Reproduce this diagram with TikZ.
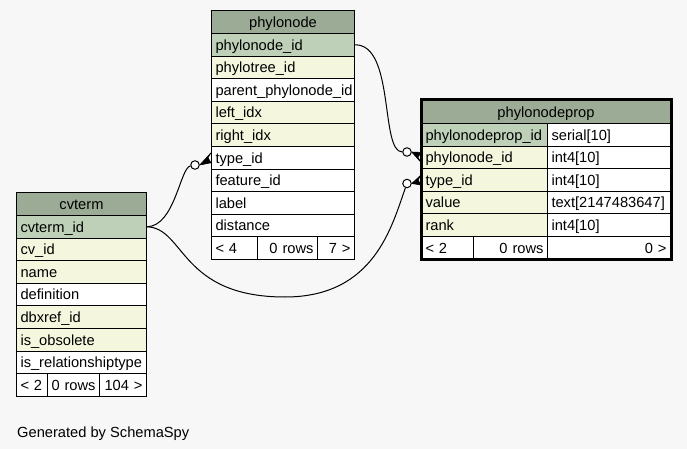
\documentclass[tikz,border=0pt]{standalone}
\usepackage{fontspec}
\setmainfont{Liberation Sans}
\usetikzlibrary{calc}
\definecolor{bg}{HTML}{F7F7F7}
\definecolor{hdr}{HTML}{9BAB96}
\definecolor{pkc}{HTML}{BED1B8}
\definecolor{idx}{HTML}{F4F7DE}
\tikzset{
  cell/.style={draw=black, line width=1pt, anchor=north west, inner xsep=4pt, inner ysep=0pt,
    text height=13.6pt, text depth=3pt, font=\fontsize{14.67}{17}\selectfont},
  conn/.style={draw=black, line width=1pt},
  circ/.style={circle, draw=black, fill=white, line width=1pt, inner sep=0pt, minimum size=8.5pt},
  crowfoot/.style={fill=black, draw=black, line width=0.6pt, line join=round}
}
\newcommand\erdcell[8]{%
  \pgfmathsetmacro\erdtw{#4-8}%
  \node[cell, fill=#6, minimum width=#4pt, minimum height=#5pt, text width=\erdtw pt, align=#7] (#1) at (#2,#3) {\mbox{#8}};}
\begin{document}
\begin{tikzpicture}[x=1pt,y=-1pt]
\useasboundingbox[fill=bg] (0,0) rectangle (687,449);

% ---------- phylonode ----------
\erdcell{pn}{211}{10}{143}{23}{hdr}{center}{phylonode}
\erdcell{pn-phylonodeid}{211}{33}{143}{22.6}{pkc}{left}{phylonode\_id}
\erdcell{pn-phylotreeid}{211}{55.6}{143}{22.6}{idx}{left}{phylotree\_id}
\erdcell{pn-parent}{211}{78.2}{143}{22.6}{white}{left}{parent\_phylonode\_id}
\erdcell{pn-left}{211}{100.8}{143}{22.6}{idx}{left}{left\_idx}
\erdcell{pn-right}{211}{123.4}{143}{22.6}{idx}{left}{right\_idx}
\erdcell{pn-typeid}{211}{146}{143}{22.6}{white}{left}{type\_id}
\erdcell{pn-featureid}{211}{168.6}{143}{22.6}{white}{left}{feature\_id}
\erdcell{pn-label}{211}{191.2}{143}{22.6}{white}{left}{label}
\erdcell{pn-distance}{211}{213.8}{143}{22.6}{white}{left}{distance}
\erdcell{pn-f1}{211}{236.4}{46}{22.6}{white}{left}{< 4}
\erdcell{pn-f2}{257}{236.4}{60}{22.6}{white}{right}{0 rows}
\erdcell{pn-f3}{317}{236.4}{37}{22.6}{white}{right}{7 >}

% ---------- cvterm ----------
\erdcell{cv}{16}{192}{130}{23}{hdr}{center}{cvterm}
\erdcell{cv-cvtermid}{16}{215}{130}{22.6}{pkc}{left}{cvterm\_id}
\erdcell{cv-cvid}{16}{237.6}{130}{22.6}{idx}{left}{cv\_id}
\erdcell{cv-name}{16}{260.2}{130}{22.6}{idx}{left}{name}
\erdcell{cv-definition}{16}{282.8}{130}{22.6}{white}{left}{definition}
\erdcell{cv-dbxrefid}{16}{305.4}{130}{22.6}{idx}{left}{dbxref\_id}
\erdcell{cv-isobsolete}{16}{328}{130}{22.6}{idx}{left}{is\_obsolete}
\erdcell{cv-isrel}{16}{350.6}{130}{22.6}{white}{left}{is\_relationshiptype}
\erdcell{cv-f1}{16}{373.2}{31}{22.6}{white}{left}{< 2}
\erdcell{cv-f2}{47}{373.2}{52}{22.6}{white}{right}{0 rows}
\erdcell{cv-f3}{99}{373.2}{47}{22.6}{white}{right}{104 >}

% ---------- phylonodeprop ----------
\erdcell{pp}{421}{100}{249}{23}{hdr}{center}{phylonodeprop}
\erdcell{pp-id}{421}{123}{126}{22.6}{pkc}{left}{phylonodeprop\_id}
\erdcell{pp-idt}{547}{123}{123}{22.6}{white}{left}{serial[10]}
\erdcell{pp-phylonodeid}{421}{145.6}{126}{22.6}{idx}{left}{phylonode\_id}
\erdcell{pp-phylonodeidt}{547}{145.6}{123}{22.6}{white}{left}{int4[10]}
\erdcell{pp-typeid}{421}{168.2}{126}{22.6}{idx}{left}{type\_id}
\erdcell{pp-typeidt}{547}{168.2}{123}{22.6}{white}{left}{int4[10]}
\erdcell{pp-value}{421}{190.8}{126}{22.6}{idx}{left}{value}
\erdcell{pp-valuet}{547}{190.8}{123}{22.6}{white}{left}{text[2147483647]}
\erdcell{pp-rank}{421}{213.4}{126}{22.6}{idx}{left}{rank}
\erdcell{pp-rankt}{547}{213.4}{123}{22.6}{white}{left}{int4[10]}
\erdcell{pp-f1}{421}{236}{52}{22.6}{white}{left}{< 2}
\erdcell{pp-f2}{473}{236}{74}{22.6}{white}{right}{0 rows}
\erdcell{pp-f3}{547}{236}{123}{22.6}{white}{right}{0 >}
\draw[line width=3pt] (pp.north west) rectangle (pp-f3.south east);

% ---------- connectors ----------
\node[circ] (o1) at (407,152) {};
\node[circ] (o2) at (407,183.5) {};
\node[circ] (o3) at (195,165) {};

\draw[conn] (pn-phylonodeid.east) .. controls (395,44.3) and (380,152) .. (o1);
\draw[conn] (cv-cvtermid.east) .. controls (175,226) and (180,168) .. (o3);
\draw[conn] (cv-cvtermid.east) .. controls (185,228) and (180,297) .. (285,297)
            .. controls (375,297) and (392,225) .. (o2);

\fill[crowfoot] (o1.east) -- ($(pp-phylonodeid.west)+(0,-5)$) -- ($(pp-phylonodeid.west)+(-3,0)$) -- ($(pp-phylonodeid.west)+(0,5)$) -- cycle;
\fill[crowfoot] (o2.east) -- ($(pp-typeid.west)+(0,-5)$) -- ($(pp-typeid.west)+(-3,0)$) -- ($(pp-typeid.west)+(0,5)$) -- cycle;
\fill[crowfoot] (o3.east) -- ($(pn-typeid.west)+(0,-5)$) -- ($(pn-typeid.west)+(-3,0)$) -- ($(pn-typeid.west)+(0,5)$) -- cycle;

\node[anchor=base west, inner sep=0pt, font=\fontsize{14.67}{17}\selectfont] (gen) at (17,437) {Generated by SchemaSpy};
\end{tikzpicture}
\end{document}
